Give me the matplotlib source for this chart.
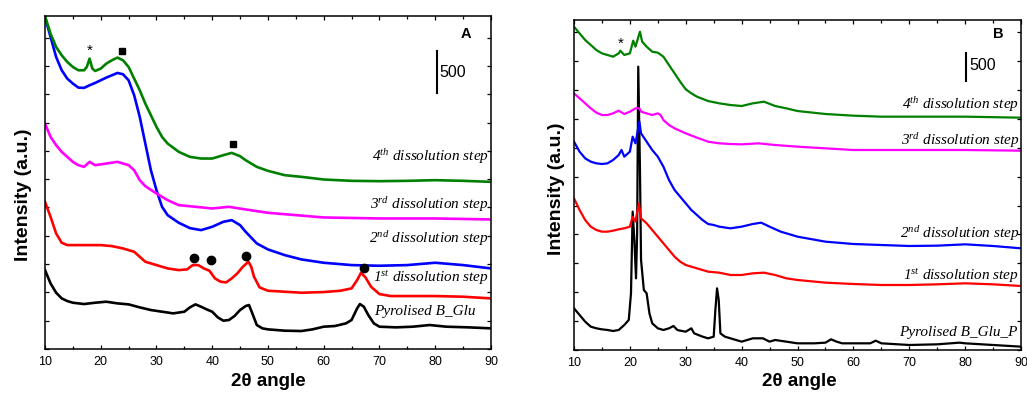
import matplotlib
matplotlib.use("Agg")
import matplotlib.pyplot as plt
from matplotlib.ticker import MultipleLocator

plt.rcParams["font.family"] = ["Liberation Sans", "DejaVu Sans"]
plt.rcParams["mathtext.fontset"] = "custom"
plt.rcParams["mathtext.rm"] = "Liberation Serif:italic"
plt.rcParams["mathtext.it"] = "Liberation Serif:italic"

# ---------------- panel A (counts) ----------------
a_pyro_x = [10, 11, 12, 13, 14, 15, 17, 19, 21, 23, 25, 27, 29, 31, 33, 35, 36, 37, 38, 39, 40, 41, 42, 43, 44, 45, 46,
            46.6, 47.2, 48, 49, 50, 53, 56, 58, 60, 62, 64, 65, 66, 66.5, 67.2, 68, 69, 70, 73, 76, 79, 82, 86, 90]
a_pyro_y = [948, 788, 676, 608, 576, 556, 540, 556, 568, 548, 536, 500, 468, 448, 428, 448, 500, 536, 508, 476, 448, 380,
            340, 348, 396, 468, 516, 528, 428, 288, 248, 236, 220, 216, 236, 268, 276, 308, 348, 488, 540, 508, 408, 308,
            268, 260, 268, 288, 268, 260, 248]

a_step1_x = [10, 11, 12, 13, 14, 16, 18, 20, 22, 24, 26, 27, 28, 30, 32, 34, 35.5, 36.5, 37.5, 38.5, 39.5, 40.5, 41.5,
             42.5, 43.5, 44.5, 45.5, 46.5, 47, 47.5, 48.5, 50, 53, 56, 60, 63, 65, 66, 66.7, 67.5, 68.5, 70, 72, 75, 80,
             85, 90]
a_step1_y = [1768, 1588, 1388, 1276, 1248, 1248, 1248, 1248, 1236, 1208, 1168, 1108, 1048, 1008, 968, 948, 956, 1008,
             1008, 968, 940, 848, 808, 800, 848, 908, 988, 1048, 988, 868, 740, 700, 688, 676, 684, 700, 728, 828, 916,
             860, 748, 660, 636, 636, 636, 628, 608]

a_step2_x = [10, 11, 12, 13, 14, 15, 16, 17, 18, 19, 20, 21, 22, 23, 24, 25, 26, 27, 28, 29, 30, 31, 32, 34, 36, 38, 40,
             42, 43.5, 45, 46, 48, 50, 53, 56, 60, 65, 70, 75, 80, 85, 90]
a_step2_y = [3988, 3748, 3508, 3348, 3248, 3188, 3140, 3136, 3168, 3196, 3228, 3260, 3288, 3316, 3300, 3228, 3048, 2788,
             2468, 2148, 1908, 1708, 1608, 1516, 1452, 1428, 1468, 1528, 1548, 1488, 1408, 1268, 1196, 1128, 1076, 1036,
             1008, 1000, 1008, 1036, 1008, 968]

a_step3_x = [10, 11, 12, 13, 15, 16, 17, 18, 19, 21, 23, 25, 26, 27, 28, 30, 32, 34, 37, 40, 43, 46, 50, 55, 60, 70, 80, 90]
a_step3_y = [2708, 2548, 2448, 2368, 2248, 2208, 2188, 2248, 2208, 2228, 2248, 2208, 2148, 2028, 1956, 1868, 1788, 1728,
             1708, 1688, 1708, 1676, 1636, 1608, 1580, 1568, 1568, 1556]

a_step4_x = [10, 11, 12, 13, 14, 15, 16, 17, 17.5, 18, 18.5, 19, 20, 21, 22, 23, 24, 25, 26, 27, 28, 29, 30, 31, 32, 34,
             36, 38, 40, 42, 43.5, 45, 46, 48, 50, 53, 56, 60, 65, 70, 75, 80, 85, 90]
a_step4_y = [4000, 3788, 3628, 3528, 3448, 3388, 3348, 3348, 3388, 3488, 3368, 3340, 3368, 3428, 3468, 3500, 3468, 3388,
             3248, 3108, 2948, 2808, 2668, 2548, 2468, 2368, 2308, 2288, 2288, 2328, 2356, 2316, 2268, 2188, 2140, 2088,
             2068, 2036, 2020, 2016, 2020, 2028, 2020, 2008]

a_star = (18, 3580)
a_squares_x = [23.8, 43.8]
a_squares_y = [3580, 2460]
a_circles_x = [36.8, 39.8, 46.0, 67.2]
a_circles_y = [1088, 1068, 1120, 976]

# ---------------- panel B ----------------
b_pyro_x = [10, 11, 12, 13, 14, 15, 16, 17, 18, 19, 19.8, 20.2, 20.5, 20.8, 21.1, 21.3, 21.5, 21.8, 22, 22.5, 23, 23.5,
            24, 25, 26, 27, 27.8, 28.5, 29, 30, 31, 31.5, 33, 34, 35, 35.3, 35.6, 35.9, 36.2, 37, 38, 40, 42, 43.8, 45,
            46, 48, 50, 53, 55, 56, 57, 58, 60, 63, 64, 65, 70, 75, 79, 80, 85, 90]
b_pyro_y = [750, 630, 510, 420, 390, 372, 360, 342, 360, 450, 540, 1020, 2490, 1980, 1290, 2100, 5100, 3300, 1620, 1080,
            1020, 660, 480, 390, 360, 390, 432, 360, 348, 330, 390, 300, 240, 210, 240, 720, 1110, 900, 300, 240, 210,
            150, 210, 210, 150, 180, 150, 120, 120, 132, 192, 150, 120, 120, 120, 168, 120, 90, 102, 132, 120, 90, 60]

b_step1_x = [10, 11, 12, 13, 14, 15, 16, 17, 18, 19, 20, 20.5, 21, 21.6, 22, 23, 24, 25, 26, 27, 28, 29, 30, 32, 34, 36,
             38, 40, 42, 44, 46, 48, 50, 55, 60, 65, 70, 75, 80, 85, 90]
b_step1_y = [2730, 2520, 2340, 2220, 2160, 2130, 2130, 2148, 2172, 2190, 2220, 2400, 2310, 2640, 2370, 2280, 2160, 2040,
             1920, 1800, 1680, 1590, 1530, 1470, 1410, 1392, 1350, 1350, 1380, 1392, 1350, 1290, 1260, 1212, 1188, 1170,
             1170, 1182, 1200, 1182, 1152]

b_step2_x = [10, 11, 12, 13, 14, 15, 16, 17, 18, 18.5, 19, 20, 20.5, 21, 21.7, 22, 23, 24, 25, 26, 27, 28, 29, 30, 31,
             32, 33, 34, 35, 36, 38, 40, 42, 43.5, 45, 47, 50, 55, 60, 65, 70, 75, 80, 85, 90]
b_step2_y = [3750, 3570, 3450, 3390, 3360, 3348, 3360, 3420, 3510, 3600, 3480, 3570, 3840, 3720, 4110, 3900, 3750, 3600,
             3480, 3300, 3060, 2880, 2760, 2640, 2520, 2430, 2340, 2268, 2250, 2220, 2190, 2220, 2268, 2292, 2220, 2130,
             2040, 1950, 1908, 1890, 1872, 1878, 1902, 1872, 1830]

b_step3_x = [10, 11, 12, 13, 14, 15, 16, 17, 18, 19, 20, 21, 21.7, 22, 23, 24, 25, 25.5, 26, 27, 28, 30, 32, 34, 36, 38,
             40, 43, 46, 50, 55, 60, 70, 80, 90]
b_step3_y = [4620, 4530, 4440, 4350, 4272, 4230, 4230, 4260, 4308, 4248, 4290, 4350, 4350, 4290, 4260, 4230, 4260, 4230,
             4140, 4050, 3990, 3900, 3822, 3750, 3720, 3708, 3702, 3720, 3690, 3660, 3630, 3600, 3600, 3600, 3588]

b_step4_x = [10, 11, 12, 13, 14, 15, 16, 17, 18, 18.3, 19, 20, 20.6, 21, 21.8, 22.2, 23, 24, 25, 26, 27, 28, 29, 30, 31,
             32, 34, 36, 38, 40, 42, 44, 46, 48, 50, 55, 60, 65, 70, 80, 90]
b_step4_y = [5820, 5700, 5580, 5490, 5400, 5340, 5310, 5280, 5340, 5388, 5310, 5340, 5568, 5460, 5730, 5550, 5460, 5370,
             5352, 5280, 5130, 4980, 4830, 4692, 4620, 4560, 4482, 4440, 4410, 4392, 4440, 4470, 4392, 4350, 4302, 4248,
             4218, 4200, 4200, 4200, 4182]

b_star = (18.4, 5520)

colors = ["black", "#ff0000", "#0000ff", "#ff00ff", "#008000"]
names = ["1$^{st}$ dissolution step", "2$^{nd}$ dissolution step",
         "3$^{rd}$ dissolution step", "4$^{th}$ dissolution step"]
a_label_y = [456, 856, 1328, 1740, 2316]
b_label_y = [312, 1332, 2100, 3762, 4410]

serif = ["Liberation Serif", "DejaVu Serif"]

fig = plt.figure(figsize=(10.27, 3.94), dpi=100)
axA = fig.add_axes([0.0438, 0.1142, 0.4342, 0.8452])
axB = fig.add_axes([0.5589, 0.1117, 0.4353, 0.8375])


def style(ax, ymax, ystep, xlab_pos, ylab_pos):
    ax.set_xlim(10, 90)
    ax.set_ylim(0, ymax)
    ax.xaxis.set_major_locator(MultipleLocator(10))
    ax.xaxis.set_minor_locator(MultipleLocator(5))
    ax.yaxis.set_major_locator(MultipleLocator(ystep))
    ax.tick_params(which="both", direction="in", top=True, right=True, labelleft=False, width=0.9)
    ax.tick_params(which="major", length=3, labelsize=9, pad=5)
    ax.tick_params(which="minor", length=2)
    for s in ax.spines.values():
        s.set_linewidth(1.1)
    ax.set_xlabel("2θ angle", fontsize=13.5, fontweight="bold", va="center")
    ax.set_ylabel("Intensity (a.u.)", fontsize=14, fontweight="bold", va="center")
    ax.xaxis.set_label_coords(*xlab_pos)
    ax.yaxis.set_label_coords(*ylab_pos)


series_A = [(a_pyro_x, a_pyro_y), (a_step1_x, a_step1_y), (a_step2_x, a_step2_y),
            (a_step3_x, a_step3_y), (a_step4_x, a_step4_y)]
series_B = [(b_pyro_x, b_pyro_y), (b_step1_x, b_step1_y), (b_step2_x, b_step2_y),
            (b_step3_x, b_step3_y), (b_step4_x, b_step4_y)]

for (x, y), c in zip(series_A, colors):
    axA.plot(x, y, color=c, lw=1.9)
for (x, y), c in zip(series_B, colors):
    axB.plot(x, y, color=c, lw=1.6)

style(axA, 4000, 340, (0.501, -0.099), (-0.049, 0.462))
style(axB, 5940, 520, (0.503, -0.097), (-0.040, 0.488))

# curve labels
axA.text(87.3, a_label_y[0], "Pyrolised B_Glu", family=serif, style="italic", fontsize=11, ha="right", va="center")
axB.text(89.4, b_label_y[0], "Pyrolised B_Glu_P", family=serif, style="italic", fontsize=11, ha="right", va="center")
for i, nm in enumerate(names):
    axA.text(89.6, a_label_y[i + 1], nm, family=serif, style="italic", fontsize=11, ha="right", va="center")
    axB.text(89.65, b_label_y[i + 1], nm, family=serif, style="italic", fontsize=11, ha="right", va="center")

# phase markers
axA.text(a_star[0], a_star[1], "*", fontsize=11, ha="center", va="center")
axA.plot(a_squares_x, a_squares_y, "s", color="black", ms=4.5)
axA.plot(a_circles_x, a_circles_y, "o", color="black", ms=6)
axB.text(b_star[0], b_star[1], "*", fontsize=11, ha="center", va="center")

# scale bars
axA.plot([80.3, 80.3], [3080, 3580], color="black", lw=1.5)
axA.text(80.8, 3316, "500", fontsize=11.5, ha="left", va="center")
axB.plot([80.2, 80.2], [4850, 5350], color="black", lw=1.5)
axB.text(80.7, 5130, "500", fontsize=11.5, ha="left", va="center")

axA.text(85.5, 3788, "A", fontsize=10.5, fontweight="bold", ha="center", va="center")
axB.text(85.9, 5682, "B", fontsize=10.5, fontweight="bold", ha="center", va="center")

fig.savefig("out.png", dpi=100)
